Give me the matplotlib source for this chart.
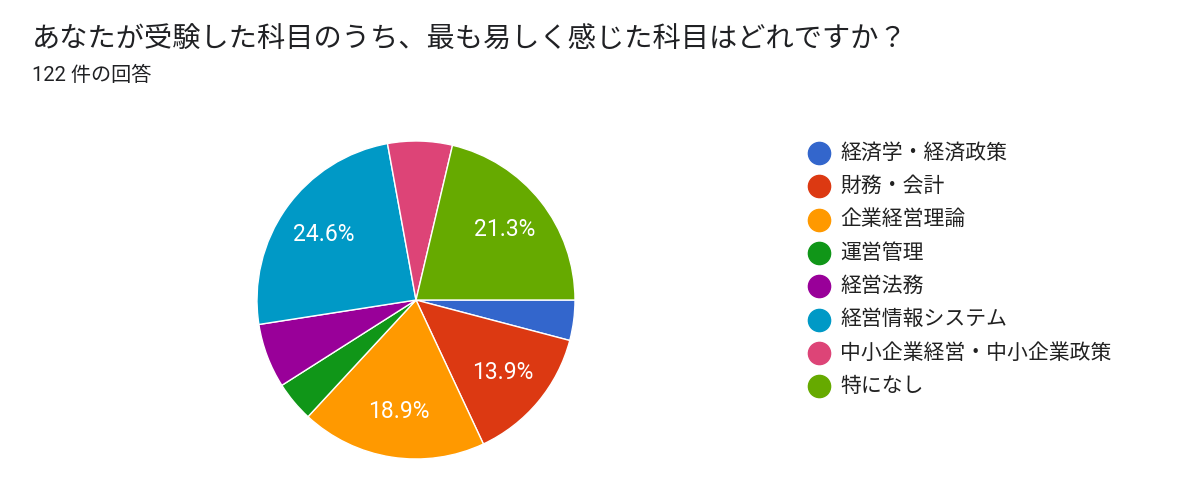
import matplotlib
matplotlib.use("Agg")
import matplotlib.pyplot as plt

plt.rcParams['font.family'] = ['Roboto', 'Noto Sans CJK JP', 'DejaVu Sans']

# survey data (122 responses)
subjects = ['経済学・経済政策', '財務・会計', '企業経営理論', '運営管理',
            '経営法務', '経営情報システム', '中小企業経営・中小企業政策', '特になし']
counts = [5, 17, 23, 5, 8, 30, 8, 26]
colors = ['#3366cc', '#dc3912', '#ff9900', '#109618',
          '#990099', '#0099c6', '#dd4477', '#66aa00']
title = 'あなたが受験した科目のうち、最も易しく感じた科目はどれですか？'
subtitle = '122 件の回答'

W, H = 1200, 501
fig = plt.figure(figsize=(W / 100, H / 100), dpi=100)

# pie axes placed in pixel terms
cx, cy, r = 416, 300, 159
ax = fig.add_axes([(cx - r) / W, (H - cy - r) / H, 2 * r / W, 2 * r / H])


def pct_label(p):
    return f'{p:.1f}%' if p >= 10 else ''


wedges, texts, autotexts = ax.pie(
    counts, colors=colors, startangle=0, counterclock=False,
    autopct=pct_label, pctdistance=0.71,
    wedgeprops=dict(edgecolor='white', linewidth=1),
    textprops=dict(color='white', fontsize=16.5))
ax.set_aspect('equal')
ax.set_xlim(-1, 1)
ax.set_ylim(-1, 1)

fig.text(32 / W, 1 - 40 / H, title, fontsize=20.3, color='#202124', va='center')
fig.text(32 / W, 1 - 75 / H, subtitle, fontsize=14.5, color='#202124', va='center')

# legend with round markers
for i, (name, col) in enumerate(zip(subjects, colors)):
    y = 1 - (153 + i * 33.3) / H
    fig.text(840 / W, y, name, fontsize=15, color='#212121', va='center')
    fig.add_artist(plt.Line2D([819 / W], [y], marker='o', markersize=16,
                              color=col, linestyle='none',
                              transform=fig.transFigure))

fig.savefig('out.png', dpi=100, facecolor='white')
